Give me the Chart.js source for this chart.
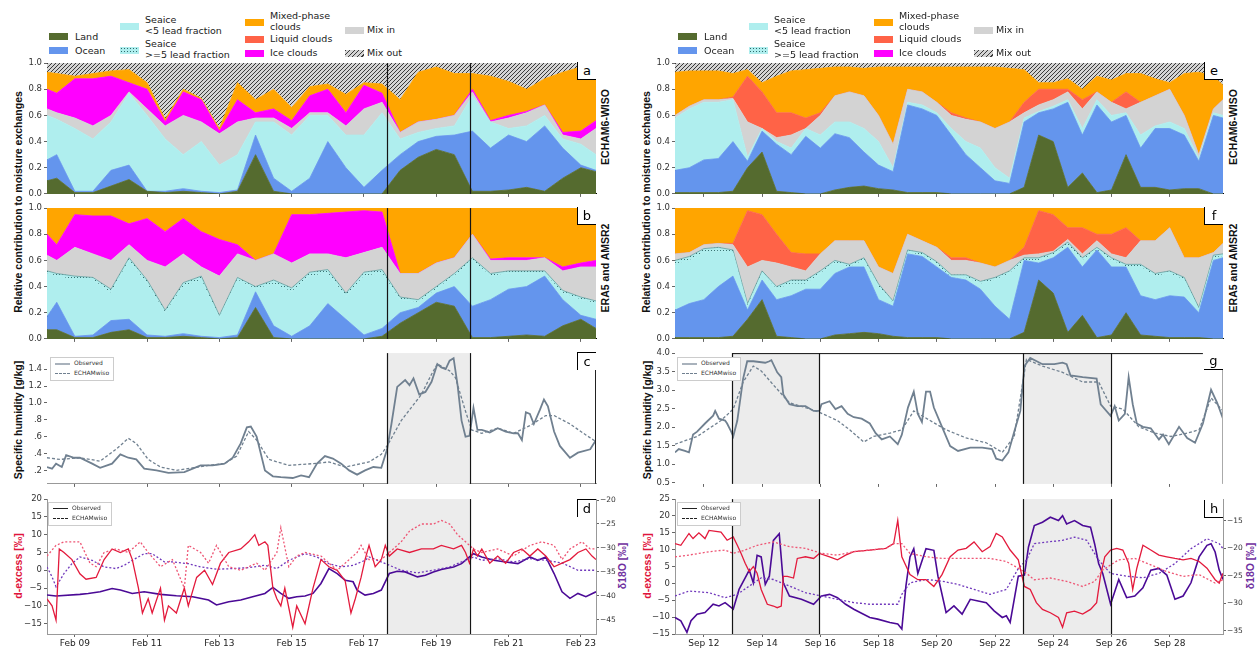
<!DOCTYPE html>
<html>
<head>
<meta charset="utf-8">
<title>Moisture source contributions</title>
<script src="https://cdn.jsdelivr.net/npm/chart.js@4.4.1/dist/chart.umd.min.js"></script>
<style>
  html, body { margin: 0; background: #fff; }
  #stage { position: relative; width: 1258px; height: 648px; overflow: hidden; font-family: "DejaVu Sans", sans-serif; }
  #stage canvas { position: absolute; }
  .leg { position: absolute; top: 0; width: 420px; height: 60px; font-size: 9.5px; color: #222; }
  .leg .p { position: absolute; width: 19px; height: 7px; }
  .leg .t { position: absolute; line-height: 10.5px; white-space: nowrap; }
  .hatch { background: repeating-linear-gradient(135deg, #3a3a3a 0 1px, #d4d4d4 1px 3.2px); }
  .dots { background: radial-gradient(circle, #2f6b6b 0.7px, transparent 0.9px) 0 0 / 3px 3px, #afeeee; }
  .ttl { position: absolute; font-family: "Liberation Sans", Arial, sans-serif; font-weight: bold; font-size: 10.5px;
         white-space: nowrap; transform: translate(-50%, -50%) rotate(-90deg); color: #111; }
  .tag { position: absolute; width: 19px; height: 18px; background: #fff; font-size: 13px; line-height: 17px;
         text-align: center; color: #000; box-sizing: border-box; }
  .lbox { position: absolute; width: 62px; height: 22px; background: #fff; border: 1px solid #ccc; font-size: 6px; color: #333; }
  .lbox i { position: absolute; left: 4px; width: 15px; height: 0; }
  .lbox span { position: absolute; left: 23px; line-height: 8px; white-space: nowrap; }
</style>
</head>
<body>
<div id="stage">
  <div class="leg" id="legL" style="left:0">
    <div class="p" style="left:49px;top:33px;background:#556b2f"></div><div class="t" style="left:75px;top:32px">Land</div>
    <div class="p" style="left:49px;top:47px;background:#6495ed"></div><div class="t" style="left:75px;top:46px">Ocean</div>
    <div class="p" style="left:120px;top:23px;background:#afeeee"></div><div class="t" style="left:145px;top:15px">Seaice<br>&lt;5 lead fraction</div>
    <div class="p dots" style="left:120px;top:47px"></div><div class="t" style="left:145px;top:39px">Seaice<br>&gt;=5 lead fraction</div>
    <div class="p" style="left:245px;top:19px;background:#ffa500"></div><div class="t" style="left:270px;top:11px">Mixed-phase<br>clouds</div>
    <div class="p" style="left:245px;top:36px;background:#ff6347"></div><div class="t" style="left:270px;top:34px">Liquid clouds</div>
    <div class="p" style="left:245px;top:50px;background:#ff00ff"></div><div class="t" style="left:270px;top:48px">Ice clouds</div>
    <div class="p" style="left:345px;top:27px;background:#d3d3d3"></div><div class="t" style="left:367px;top:25px">Mix in</div>
    <div class="p hatch" style="left:345px;top:50px"></div><div class="t" style="left:367px;top:48px">Mix out</div>
  </div>

  <div class="ttl" style="left:18px;top:202px">Relative contribution to moisture exchanges</div>
  <div class="ttl" style="left:646px;top:202px">Relative contribution to moisture exchanges</div>
  <div class="ttl" style="left:18px;top:420px">Specific humidity [g/kg]</div>
  <div class="ttl" style="left:647px;top:420px">Specific humidity [g/kg]</div>
  <div class="ttl" style="left:18px;top:566px;color:#e0143c">d-excess [‰]</div>
  <div class="ttl" style="left:647px;top:566px;color:#e0143c">d-excess [‰]</div>
  <div class="ttl" style="left:622px;top:566px;color:#7030a0">δ18O [‰]</div>
  <div class="ttl" style="left:1250px;top:566px;color:#7030a0">δ18O [‰]</div>
  <div class="ttl" style="left:605px;top:127px">ECHAM6-WISO</div>
  <div class="ttl" style="left:1233px;top:127px">ECHAM6-WISO</div>
  <div class="ttl" style="left:605px;top:268px">ERA5 and AMSR2</div>
  <div class="ttl" style="left:1233px;top:268px">ERA5 and AMSR2</div>
</div>

<script>
// ================= TIME AXES =================
const febRange = [8.23, 23.42];
const sepRange = [11.01, 29.83];
const febTicks = [9, 11, 13, 15, 17, 19, 21, 23];
const sepTicks = [12, 14, 16, 18, 20, 22, 24, 26, 28];
const febEvents = [[17.65, 19.92]];
const sepEvents = [[12.98, 15.97], [22.97, 25.97]];

// ================= VALUE TICKS =================
const fracTicks = [0, 0.2, 0.4, 0.6, 0.8, 1.0];
const qFebTicks = [0.2, 0.4, 0.6, 0.8, 1.0, 1.2, 1.4];
const qSepTicks = [0.5, 1.0, 1.5, 2.0, 2.5, 3.0, 3.5, 4.0];
const dxFebTicks = [-15, -10, -5, 0, 5, 10, 15, 20];
const d18FebTicks = [-45, -40, -35, -30, -25, -20];
const dxSepTicks = [-15, -10, -5, 0, 5, 10, 15, 20, 25];
const d18SepTicks = [-35, -30, -25, -20, -15];

// ================= STACKED SOURCES: FEBRUARY =================
// upper edge of each layer (cumulative fraction), read on a half-day grid
const tFeb = [8.23, 8.5, 9, 9.5, 10, 10.5, 11, 11.5, 12, 12.5, 13, 13.5, 14, 14.5, 15, 15.5,
              16, 16.5, 17, 17.5, 18, 18.5, 19, 19.5, 20, 20.5, 21, 21.5, 22, 22.5, 23, 23.42];

const aLand   = [0.10,0.12,0.01,0.01,0.06,0.11,0.02,0.01,0.02,0.01,0.00,0.02,0.30,0.02,0.00,0.00,0.00,0.00,0.00,0.00,0.18,0.28,0.34,0.30,0.02,0.02,0.03,0.05,0.02,0.12,0.20,0.17];
const aOcean  = [0.26,0.30,0.02,0.02,0.18,0.22,0.02,0.02,0.04,0.02,0.01,0.03,0.45,0.12,0.02,0.12,0.40,0.20,0.05,0.18,0.30,0.40,0.44,0.45,0.48,0.35,0.45,0.40,0.52,0.35,0.22,0.18];
const aSeaice = [0.60,0.57,0.50,0.42,0.55,0.77,0.60,0.42,0.30,0.40,0.22,0.30,0.55,0.55,0.45,0.60,0.60,0.45,0.45,0.62,0.42,0.47,0.50,0.52,0.75,0.55,0.50,0.52,0.60,0.42,0.38,0.30];
const aMixIn  = [0.65,0.62,0.58,0.52,0.60,0.78,0.65,0.52,0.60,0.55,0.46,0.55,0.58,0.58,0.50,0.62,0.62,0.52,0.65,0.70,0.47,0.55,0.57,0.60,0.78,0.55,0.58,0.62,0.68,0.45,0.42,0.50];
const aIce    = [0.80,0.77,0.88,0.88,0.90,0.85,0.80,0.55,0.78,0.72,0.48,0.72,0.62,0.65,0.56,0.75,0.80,0.62,0.83,0.77,0.47,0.55,0.57,0.60,0.80,0.56,0.60,0.63,0.68,0.47,0.48,0.56];
const aMixed  = [0.93,0.92,0.90,0.92,0.94,0.95,0.85,0.57,0.80,0.73,0.50,0.85,0.72,0.80,0.66,0.82,0.84,0.76,0.85,0.84,0.72,0.93,0.97,0.92,0.92,0.90,0.86,0.80,0.88,0.93,0.97,0.88];

const bLand    = [0.07,0.07,0.01,0.01,0.05,0.07,0.01,0.01,0.02,0.01,0.00,0.01,0.24,0.01,0.00,0.00,0.00,0.00,0.00,0.02,0.12,0.20,0.28,0.25,0.01,0.01,0.02,0.03,0.02,0.10,0.15,0.08];
const bOcean   = [0.17,0.28,0.02,0.03,0.14,0.15,0.03,0.02,0.04,0.02,0.01,0.03,0.36,0.10,0.02,0.10,0.27,0.15,0.03,0.08,0.20,0.24,0.35,0.40,0.25,0.30,0.38,0.40,0.48,0.30,0.18,0.15];
const bSeaice  = [0.50,0.48,0.45,0.45,0.35,0.60,0.42,0.20,0.40,0.45,0.16,0.45,0.38,0.42,0.36,0.48,0.50,0.32,0.48,0.50,0.30,0.28,0.38,0.48,0.60,0.48,0.50,0.50,0.50,0.35,0.30,0.27];
const bSeaice5 = [0.52,0.50,0.48,0.47,0.38,0.62,0.45,0.22,0.43,0.48,0.18,0.47,0.40,0.45,0.39,0.51,0.53,0.35,0.51,0.53,0.32,0.30,0.40,0.50,0.62,0.50,0.52,0.52,0.52,0.37,0.32,0.29];
const bMixIn   = [0.64,0.60,0.70,0.65,0.60,0.72,0.60,0.55,0.65,0.55,0.48,0.65,0.60,0.65,0.58,0.65,0.65,0.62,0.66,0.70,0.50,0.50,0.58,0.62,0.80,0.60,0.60,0.60,0.62,0.52,0.55,0.55];
const bIce     = [0.80,0.72,0.95,0.94,0.94,0.88,0.92,0.82,0.92,0.82,0.76,0.72,0.60,0.65,0.95,0.95,0.96,0.97,0.98,0.97,0.50,0.50,0.58,0.62,0.80,0.61,0.62,0.62,0.62,0.55,0.58,0.60];

// ================= STACKED SOURCES: SEPTEMBER =================
const tSep = [11.01, 11.5, 12, 12.5, 13, 13.5, 14, 14.5, 15, 15.5, 16, 16.5, 17, 17.5, 18, 18.5, 19, 19.5, 20, 20.5,
              21, 21.5, 22, 22.5, 23, 23.5, 24, 24.5, 25, 25.5, 26, 26.5, 27, 27.5, 28, 28.5, 29, 29.5, 29.83];

const eLand   = [0.01,0.01,0.01,0.01,0.02,0.20,0.32,0.02,0.01,0.00,0.00,0.03,0.05,0.06,0.04,0.03,0.01,0.01,0.01,0.00,0.00,0.00,0.00,0.00,0.05,0.45,0.40,0.05,0.16,0.01,0.03,0.30,0.05,0.05,0.03,0.04,0.04,0.00,0.00];
const eOcean  = [0.18,0.20,0.26,0.27,0.40,0.25,0.48,0.38,0.30,0.44,0.35,0.46,0.43,0.32,0.22,0.17,0.68,0.65,0.60,0.45,0.30,0.20,0.10,0.08,0.55,0.62,0.65,0.70,0.45,0.68,0.55,0.60,0.35,0.50,0.50,0.45,0.25,0.60,0.58];
const eSeaice = [0.58,0.65,0.70,0.70,0.72,0.28,0.50,0.40,0.35,0.50,0.45,0.55,0.55,0.50,0.40,0.20,0.70,0.68,0.62,0.50,0.40,0.35,0.20,0.12,0.58,0.63,0.67,0.72,0.50,0.72,0.60,0.62,0.45,0.52,0.55,0.50,0.27,0.62,0.60];
const eMixIn  = [0.60,0.67,0.72,0.72,0.73,0.55,0.50,0.43,0.45,0.50,0.60,0.75,0.78,0.75,0.60,0.38,0.80,0.78,0.70,0.60,0.57,0.55,0.50,0.55,0.62,0.68,0.72,0.78,0.65,0.78,0.70,0.65,0.70,0.75,0.80,0.60,0.30,0.65,0.72];
const eLiquid = [0.60,0.67,0.72,0.72,0.74,0.90,0.78,0.62,0.62,0.58,0.62,0.75,0.78,0.75,0.60,0.38,0.80,0.78,0.70,0.62,0.58,0.55,0.50,0.55,0.70,0.80,0.80,0.80,0.72,0.78,0.70,0.78,0.70,0.75,0.80,0.60,0.30,0.65,0.72];
const eMixed  = [0.93,0.94,0.94,0.94,0.92,0.95,0.85,0.90,0.94,0.95,0.96,0.97,0.97,0.96,0.97,0.97,0.97,0.97,0.97,0.97,0.97,0.97,0.97,0.96,0.95,0.85,0.85,0.88,0.80,0.90,0.87,0.92,0.92,0.88,0.85,0.92,0.93,0.90,0.83];

const fLand    = [0.01,0.01,0.01,0.01,0.02,0.15,0.30,0.02,0.01,0.00,0.00,0.03,0.04,0.05,0.04,0.02,0.01,0.01,0.01,0.00,0.00,0.00,0.00,0.00,0.05,0.45,0.35,0.05,0.18,0.01,0.03,0.20,0.03,0.02,0.01,0.01,0.01,0.00,0.00];
const fOcean   = [0.22,0.27,0.30,0.40,0.48,0.22,0.45,0.30,0.33,0.38,0.38,0.50,0.55,0.55,0.30,0.25,0.65,0.63,0.55,0.47,0.45,0.38,0.25,0.15,0.60,0.58,0.62,0.70,0.55,0.68,0.55,0.55,0.33,0.30,0.33,0.32,0.20,0.60,0.62];
const fSeaice  = [0.57,0.60,0.66,0.67,0.66,0.25,0.50,0.38,0.42,0.42,0.50,0.58,0.55,0.60,0.40,0.27,0.66,0.64,0.57,0.47,0.47,0.42,0.45,0.50,0.60,0.60,0.64,0.72,0.60,0.68,0.60,0.55,0.55,0.48,0.50,0.45,0.22,0.62,0.63];
const fSeaice5 = [0.60,0.63,0.69,0.70,0.68,0.27,0.52,0.40,0.45,0.45,0.52,0.60,0.57,0.62,0.42,0.29,0.68,0.66,0.59,0.49,0.49,0.44,0.47,0.52,0.62,0.62,0.66,0.74,0.62,0.70,0.62,0.57,0.57,0.50,0.52,0.47,0.24,0.64,0.65];
const fMixIn   = [0.65,0.66,0.72,0.73,0.72,0.55,0.60,0.58,0.55,0.52,0.65,0.75,0.75,0.75,0.55,0.50,0.80,0.75,0.70,0.60,0.60,0.58,0.55,0.60,0.64,0.65,0.67,0.76,0.65,0.75,0.65,0.62,0.75,0.75,0.85,0.62,0.62,0.66,0.73];
const fLiquid  = [0.65,0.66,0.72,0.73,0.73,0.98,0.95,0.80,0.66,0.65,0.65,0.75,0.75,0.75,0.55,0.50,0.80,0.75,0.70,0.62,0.62,0.58,0.55,0.60,0.70,0.98,0.95,0.85,0.85,0.80,0.80,0.85,0.75,0.75,0.85,0.62,0.62,0.66,0.73];

// ================= SPECIFIC HUMIDITY (g/kg) =================
const cObsT = [8.23,8.37,8.48,8.64,8.76,8.98,9.14,9.48,9.7,10.03,10.26,10.48,10.7,10.92,11.26,11.59,12.03,12.48,12.81,13.14,
               13.37,13.59,13.76,13.87,14.03,14.26,14.48,14.7,15.03,15.26,15.48,15.7,15.92,16.14,16.37,16.59,16.81,17.03,17.26,17.48,
               17.64,17.76,17.92,18.14,18.26,18.37,18.53,18.7,18.87,19.03,19.14,19.26,19.37,19.48,19.59,19.7,19.81,19.92,20.03,20.14,
               20.26,20.48,20.7,20.92,21.14,21.26,21.37,21.48,21.59,21.7,21.87,21.98,22.09,22.26,22.42,22.7,22.92,23.26,23.42];
const cObs  = [0.24,0.22,0.28,0.24,0.38,0.35,0.35,0.28,0.23,0.28,0.39,0.35,0.33,0.22,0.2,0.17,0.18,0.26,0.26,0.28,
               0.35,0.52,0.71,0.72,0.6,0.2,0.13,0.12,0.11,0.14,0.12,0.28,0.37,0.34,0.28,0.2,0.15,0.2,0.24,0.23,
               0.45,0.75,1.19,1.27,1.21,1.29,1.1,1.13,1.25,1.46,1.42,1.4,1.5,1.53,1.21,0.79,0.6,0.61,0.94,0.68,
               0.68,0.65,0.7,0.66,0.64,0.64,0.56,0.89,0.87,0.75,0.92,1.04,0.96,0.66,0.49,0.35,0.41,0.45,0.56];
const cModT = [8.23,8.59,9.14,9.7,10.14,10.48,10.7,11.03,11.37,11.81,12.26,12.7,13.14,13.48,13.81,14.03,14.37,14.92,15.59,16.03,
               16.48,17.14,17.48,17.64,18.03,18.59,18.87,19.03,19.37,19.53,19.81,19.98,20.26,20.7,21.14,21.59,22.03,22.26,22.7,23.14,23.42];
const cMod  = [0.35,0.33,0.35,0.31,0.45,0.58,0.52,0.33,0.24,0.2,0.23,0.26,0.28,0.37,0.66,0.56,0.33,0.26,0.28,0.3,
               0.24,0.3,0.39,0.49,0.79,1.1,1.34,1.46,1.38,1.3,0.9,0.68,0.64,0.7,0.64,0.73,0.85,0.85,0.75,0.62,0.54];

const gObsT = [11.01,11.14,11.35,11.49,11.63,11.77,12.04,12.32,12.39,12.52,12.73,12.8,12.94,13.01,13.15,13.35,13.49,13.7,14.11,14.25,
               14.32,14.52,14.66,14.73,14.94,15.21,15.49,15.77,15.97,16.04,16.32,16.52,16.73,16.94,17.15,17.42,17.7,17.9,18.11,18.39,
               18.66,18.8,19.01,19.21,19.35,19.49,19.63,19.77,19.9,20.18,20.46,20.73,21.15,21.56,21.9,22.04,22.25,22.46,22.66,22.87,
               23.01,23.21,23.63,24.04,24.32,24.46,24.59,25.01,25.49,25.63,25.97,26.11,26.25,26.46,26.59,26.73,26.87,27.08,27.35,27.63,
               27.77,27.97,28.32,28.6,28.87,29.14,29.42,29.63,29.83];
const gObs  = [1.32,1.41,1.36,1.32,1.8,1.88,2.1,2.31,2.44,2.23,2.18,2.1,1.88,1.75,2.18,3.31,3.78,3.78,3.74,3.78,
               3.81,3.48,3.35,2.88,2.62,2.57,2.57,2.44,2.44,2.62,2.7,2.49,2.57,2.36,2.27,2.23,2.1,1.84,1.67,1.75,
               1.54,1.8,2.53,2.96,2.36,2.14,2.96,2.96,2.53,2.01,1.49,1.36,1.45,1.45,1.41,1.15,1.1,1.32,1.88,2.44,
               3.65,3.87,3.7,3.7,3.74,3.7,3.4,3.35,3.31,2.62,2.31,2.57,2.18,2.36,3.35,2.62,2.1,2.01,1.97,1.67,
               1.8,1.54,2.01,1.71,1.58,2.1,3.01,2.66,2.23];
const gModT = [11.01,11.77,12.59,13.01,13.35,13.7,13.97,14.39,14.94,15.49,15.97,16.59,17.01,17.49,17.83,18.39,18.8,19.21,19.77,20.32,
               21.01,21.7,22.25,22.66,23.08,23.63,24.32,25.01,25.56,25.97,26.39,26.94,27.49,28.04,28.6,29.01,29.42,29.83];
const gMod  = [1.54,1.75,2.18,2.49,3.22,3.65,3.52,3.14,2.66,2.53,2.4,2.18,1.93,1.6,1.75,1.84,1.93,2.44,2.18,1.93,
               1.71,1.58,1.32,1.75,3.83,3.65,3.48,3.22,3.22,2.57,2.49,2.01,1.84,1.75,1.84,1.93,2.79,2.44];

// ================= d-EXCESS AND δ18O (‰) : FEBRUARY =================
const dxObsT = [8.23,8.37,8.48,8.57,8.7,8.92,9.14,9.31,9.59,9.81,10.03,10.26,10.48,10.59,10.76,10.87,11.03,11.14,11.37,11.48,
                11.59,11.81,12.03,12.14,12.37,12.59,12.81,13.03,13.26,13.59,13.81,13.98,14.09,14.26,14.34,14.48,14.59,14.7,14.81,15.03,
                15.14,15.37,15.59,15.81,16.03,16.26,16.48,16.64,16.76,16.92,17.03,17.14,17.31,17.48,17.59,17.7,17.92,18.26,18.59,18.92,
                19.14,19.48,19.7,19.81,19.92,20.03,20.14,20.26,20.48,20.7,20.92,21.14,21.37,21.59,21.81,22.03,22.26,22.48,22.7,22.92,
                23.14,23.31,23.42];
const dxObs  = [-8,-10,-14,6,5,3,-1,-2.5,-2,3,6,5,6,3,-5,-12,-8,-12,-5,-14,
                -10,-12,-5,-10,-2,0,-4,2,5,6,8,10,7,8,7,-5,-8,-10,-5,-16,
                -10,-15,-5,3,1,0,-3,-12,-8,-2,3,7,1,3,7,4,6,5,6,6,
                7,6,7,5,2,6,4,6,2,4,2,5,6,4,6,4,1,2,3,5,
                6,4,3];
const dxModT = [8.23,8.48,8.7,9.14,9.42,9.59,9.81,10.14,10.48,10.81,11.03,11.37,11.7,12.03,12.14,12.48,12.7,12.92,13.26,13.59,
                14.03,14.26,14.59,14.7,14.92,15.14,15.37,15.81,16.26,16.59,16.81,16.92,17.14,17.48,17.81,18.03,18.26,18.59,18.92,19.14,
                19.37,19.59,19.81,20.03,20.26,20.7,21.14,21.59,21.92,22.26,22.48,22.7,23.03,23.26,23.42];
const dxMod  = [4,7,8,8,2,1,5,6,5,8,5,1,3,-5,7,5,2,7,1,0,
                2,0,5,12,1,4,5,4,0,3,5,7,3,3,6,8,11,13,13,14,
                13,10,8,6,5,6,4,7,8,7,3,6,8,6,6];
const oObsT = [8.23,8.48,9.14,9.37,9.7,10.03,10.26,10.59,10.92,11.37,11.81,12.26,12.7,12.92,13.26,13.59,13.92,14.26,14.48,14.7,
               14.92,15.14,15.37,15.59,15.81,16.03,16.26,16.48,16.7,16.81,17.03,17.26,17.48,17.7,17.92,18.14,18.48,18.7,18.92,19.14,
               19.48,19.7,19.92,20.03,20.26,20.59,20.92,21.26,21.59,21.81,22.03,22.26,22.48,22.7,22.92,23.14,23.42];
const oObs  = [-39.86,-40.07,-39.72,-39.52,-39.17,-38.48,-38.82,-39.52,-39.17,-39.72,-40.0,-40.2,-40.9,-41.94,-41.25,-40.9,-40.2,-39.52,-38.27,-39.52,
               -40.55,-40.2,-40.07,-39.52,-37.44,-34.33,-35.36,-36.75,-37.09,-38.82,-39.86,-39.52,-38.82,-35.36,-34.88,-35.02,-36.06,-35.71,-35.02,-34.53,
               -33.98,-33.29,-31.9,-31.21,-31.9,-32.6,-32.94,-33.29,-31.9,-32.6,-31.9,-35.36,-39.17,-40.55,-39.52,-40.2,-39.17];
const oModT = [8.23,8.37,8.48,8.7,8.92,9.14,9.48,9.81,10.14,10.37,10.59,10.92,11.14,11.48,11.7,12.14,12.48,12.92,13.37,13.81,
               14.26,14.59,14.92,15.37,15.7,16.03,16.37,16.7,17.03,17.14,17.37,17.7,18.03,18.48,18.92,19.37,19.81,20.03,20.26,20.7,
               21.14,21.59,22.03,22.48,22.92,23.42];
const oMod  = [-33.98,-36.06,-38.13,-35.36,-33.29,-31.9,-32.6,-33.98,-34.33,-33.63,-32.6,-31.21,-31.21,-32.94,-32.94,-33.29,-33.98,-34.46,-34.33,-34.12,
               -33.63,-34.33,-32.6,-31.21,-31.9,-33.29,-33.98,-33.63,-32.6,-31.9,-32.6,-33.63,-34.67,-35.22,-34.67,-33.98,-32.6,-31.9,-32.6,-32.25,
               -32.94,-32.25,-32.6,-33.15,-34.67,-34.67];

// ================= d-EXCESS AND δ18O (‰) : SEPTEMBER =================
const hxObsT = [11.01,11.21,11.49,11.63,11.83,12.04,12.18,12.59,12.8,13.01,13.15,13.28,13.42,13.56,13.7,13.83,13.97,14.18,14.39,14.52,
                14.66,14.73,14.87,15.08,15.21,15.49,15.77,15.97,16.32,16.59,16.87,17.15,17.7,18.25,18.52,18.66,18.8,19.08,19.35,19.63,
                19.9,20.18,20.46,20.73,21.01,21.28,21.56,21.83,22.04,22.25,22.52,22.8,23.01,23.21,23.42,23.63,23.9,24.18,24.32,24.46,
                24.73,25.01,25.28,25.49,25.63,25.77,25.97,26.18,26.39,26.59,26.73,26.87,27.08,27.35,27.63,27.9,28.18,28.46,28.73,29.01,
                29.28,29.56,29.7,29.83];
const hxObs  = [11.8,11.3,14.8,13.3,15.0,13.3,15.7,15.2,12.8,13.8,11.3,8.9,6.0,3.5,5.0,3.0,-1.8,-6.2,-6.7,-7.2,
                -6.7,2.1,2.1,1.6,7.4,7.9,7.4,8.9,7.9,7.0,8.4,9.4,9.9,10.4,11.8,18.7,7.9,2.6,1.1,1.1,
                -0.9,2.6,7.9,9.9,10.4,12.3,9.4,10.9,14.8,13.8,9.9,7.0,-0.9,-1.8,-5.7,-7.7,-8.7,-10.1,-13.0,-8.7,
                -8.2,-9.1,-7.7,-5.7,2.6,7.9,9.9,10.4,9.9,6.0,-1.8,4.5,11.3,9.9,8.4,7.9,7.4,7.0,7.4,6.5,
                4.5,1.1,0.1,3.0];
const hxModT = [11.01,11.49,12.18,12.73,13.01,13.42,13.83,14.39,14.94,15.49,16.04,16.59,17.15,17.7,18.25,18.52,18.8,19.08,19.63,20.18,
                20.73,21.28,21.83,22.39,22.8,23.08,23.35,23.9,24.46,25.01,25.42,25.7,26.25,26.8,27.35,27.9,28.46,29.01,29.56,29.83];
const hxMod  = [7.9,8.4,9.4,9.9,8.9,9.9,11.3,12.3,10.9,10.4,8.9,8.4,9.4,9.9,10.4,11.8,11.8,8.9,7.9,7.4,
                7.4,7.4,7.4,6.5,4.5,3.0,1.1,1.6,0.6,-0.9,0.6,4.0,7.0,7.4,5.5,3.5,2.1,2.6,0.1,1.1];
const hoObsT = [11.01,11.21,11.42,11.56,11.77,12.04,12.32,12.52,12.73,13.01,13.21,13.42,13.56,13.7,13.83,13.97,14.11,14.25,14.39,14.59,
                14.73,14.94,15.35,15.77,16.04,16.32,16.59,16.87,17.15,17.7,17.97,18.39,18.66,18.8,18.94,19.08,19.21,19.35,19.63,19.9,
                20.04,20.32,20.59,20.87,21.15,21.42,21.7,21.97,22.25,22.39,22.52,22.66,22.8,23.01,23.15,23.35,23.63,23.9,24.18,24.32,
                24.46,24.73,25.01,25.28,25.42,25.56,25.7,25.97,26.25,26.52,26.8,27.08,27.35,27.63,27.9,28.18,28.46,28.73,29.01,29.28,
                29.42,29.56,29.7,29.83];
const hoObs  = [-32.6,-33.2,-35.3,-33.2,-32.0,-31.7,-30.2,-30.5,-29.9,-31.1,-27.5,-25.4,-24.0,-26.3,-21.3,-21.6,-26.6,-25.1,-18.6,-17.4,
                -26.3,-28.7,-29.3,-30.2,-28.7,-28.4,-29.0,-30.2,-31.1,-32.6,-32.9,-33.5,-33.8,-34.7,-26.9,-21.6,-20.1,-24.6,-20.1,-20.4,
                -25.1,-31.7,-30.5,-32.0,-29.3,-29.6,-29.9,-31.4,-32.6,-32.3,-33.5,-29.3,-25.1,-24.9,-19.8,-15.9,-15.3,-14.4,-15.0,-14.1,
                -15.6,-15.0,-15.9,-16.2,-19.2,-22.8,-24.6,-30.2,-25.7,-29.0,-28.7,-27.2,-24.0,-23.7,-24.9,-29.3,-28.7,-26.3,-21.6,-19.5,
                -19.2,-20.7,-24.0,-25.7];
const hoModT = [11.01,11.49,12.18,12.73,13.15,13.56,13.97,14.39,14.94,15.49,16.04,16.59,17.15,17.7,18.25,18.66,18.8,19.08,19.63,20.18,
                20.73,21.28,21.83,22.39,22.8,23.08,23.35,23.77,24.32,24.73,25.15,25.56,25.97,26.52,27.08,27.63,28.18,28.73,29.28,29.7,29.83];
const hoMod  = [-28.7,-27.8,-28.1,-29.0,-28.4,-26.9,-25.4,-25.7,-26.9,-28.1,-28.7,-29.3,-29.9,-30.2,-30.2,-30.2,-28.4,-26.3,-25.7,-26.0,
                -26.6,-27.5,-28.4,-27.5,-23.7,-22.2,-19.2,-18.9,-18.6,-18.0,-18.6,-22.2,-24.6,-25.1,-25.4,-24.6,-22.8,-20.1,-18.3,-19.2,-20.1];

// ================= COLOURS =================
const C = {
  land: '#556b2f', ocean: '#6495ed', seaice: '#afeeee', mixin: '#d3d3d3',
  ice: '#ff00ff', liquid: '#ff6347', mixed: '#ffa500',
  q: '#708090', dxObs: '#e31a3c', dxMod: '#ee5574', oObs: '#4b0a96', oMod: '#7038bc'
};

Chart.defaults.font.family = '"DejaVu Sans", sans-serif';

// hatch for "Mix out", dots for "Seaice >=5"
function tile(size, draw) {
  const c = document.createElement('canvas');
  c.width = size; c.height = size;
  draw(c.getContext('2d'), size);
  return c.getContext('2d').createPattern(c, 'repeat');
}
const hatch = tile(4, (g, s) => {
  g.fillStyle = '#d4d4d4'; g.fillRect(0, 0, s, s);
  g.strokeStyle = '#3a3a3a'; g.lineWidth = 1;
  g.beginPath();
  g.moveTo(-1, s + 1); g.lineTo(s + 1, -1);
  g.moveTo(-1, 1); g.lineTo(1, -1);
  g.moveTo(s - 1, s + 1); g.lineTo(s + 1, s - 1);
  g.stroke();
});
const dots = tile(3, (g, s) => {
  g.fillStyle = C.seaice; g.fillRect(0, 0, s, s);
  g.fillStyle = '#3a7272'; g.fillRect(1, 1, 1, 1);
});

const xy = (T, V) => V.map((v, i) => ({ x: T[i], y: v }));

// ================= AXES =================
const mkTicks = vals => s => { s.ticks = vals.map(v => ({ value: v })); };
const minus = v => String(v).replace('-', '\u2212');

function timeAxis(range, ticks, month, labels, border) {
  return {
    type: 'linear', min: range[0], max: range[1],
    afterBuildTicks: mkTicks(ticks),
    ticks: { display: labels, autoSkip: false, maxRotation: 0, padding: 1, color: '#222', font: { size: 9 },
             callback: v => month + ' ' + String(v).padStart(2, '0') },
    grid: { display: true, drawOnChartArea: false, tickLength: 3, color: '#666' },
    border: { display: !!border, color: border || '#000', width: 1 }
  };
}
function valAxis(pos, min, max, ticks, fmt, border, size) {
  return {
    type: 'linear', position: pos, min, max,
    afterBuildTicks: mkTicks(ticks),
    ticks: { autoSkip: false, padding: pos === 'right' ? 1 : 2, color: '#333', font: { size: size || 8.5 }, callback: fmt },
    grid: { display: true, drawOnChartArea: false, tickLength: 3, color: '#666' },
    border: { display: !!border, color: border || '#000', width: 1 }
  };
}

// shading, event lines and partial frame lines
function marks(o) {
  return {
    id: 'marks',
    beforeDatasetsDraw(chart) {
      const { ctx, chartArea: a, scales: { x } } = chart;
      ctx.save();
      ctx.fillStyle = '#ececec';
      (o.shade || []).forEach(([t0, t1]) => {
        const p0 = x.getPixelForValue(t0), p1 = x.getPixelForValue(t1);
        ctx.fillRect(p0, a.top, p1 - p0, a.bottom - a.top);
      });
      ctx.restore();
    },
    afterDatasetsDraw(chart) {
      const { ctx, chartArea: a, scales: { x } } = chart;
      ctx.save();
      ctx.strokeStyle = '#151515'; ctx.lineWidth = 1.2;
      (o.lines || []).forEach(t => {
        const p = Math.round(x.getPixelForValue(t)) + 0.5;
        ctx.beginPath(); ctx.moveTo(p, a.top); ctx.lineTo(p, a.bottom); ctx.stroke();
      });
      if (o.right) {
        ctx.strokeStyle = o.right; ctx.lineWidth = 1;
        ctx.beginPath(); ctx.moveTo(a.right - 0.5, a.top); ctx.lineTo(a.right - 0.5, a.bottom); ctx.stroke();
      }
      if (o.top) {
        ctx.strokeStyle = '#111'; ctx.lineWidth = 1;
        ctx.beginPath();
        ctx.moveTo(x.getPixelForValue(o.top[0]), a.top + 0.5);
        ctx.lineTo(x.getPixelForValue(o.top[1]), a.top + 0.5);
        ctx.stroke();
      }
      ctx.restore();
    }
  };
}

const stage = document.getElementById('stage');
function panel(box, pad, datasets, scales, opts) {
  const [x0, y0, x1, y1] = box, [pl, pt, pr, pb] = pad;
  const cv = document.createElement('canvas');
  cv.width = x1 - x0 + pl + pr; cv.height = y1 - y0 + pt + pb;
  cv.style.left = (x0 - pl) + 'px'; cv.style.top = (y0 - pt) + 'px';
  stage.appendChild(cv);
  scales.y.afterFit = s => { s.width = pl; };
  scales.x.afterFit = s => { s.height = pb; };
  if (scales.y2) scales.y2.afterFit = s => { s.width = pr; };
  return new Chart(cv, {
    type: 'line',
    data: { datasets },
    options: {
      responsive: false, animation: false, events: [],
      layout: { padding: { top: pt, right: scales.y2 ? 0 : pr, left: 0, bottom: 0 } },
      scales,
      elements: { point: { radius: 0 }, line: { tension: 0 } },
      plugins: { legend: { display: false }, tooltip: { enabled: false } }
    },
    plugins: [marks(opts || {})]
  });
}

// one filled band per layer, each filling down to the previous edge
function layer(T, V, color, line, fill) {
  return { data: xy(T, V), backgroundColor: color, borderColor: line, borderWidth: line ? 0.8 : 0,
           fill: fill, pointRadius: 0 };
}

const LX = [47, 596], RX = [675, 1223];
const ROW = { a: [62, 197], b: [207, 342], c: [352, 487], d: [498, 634] };
const fmt1 = v => v.toFixed(1);

// ---------- a: ECHAM6-wiso, February ----------
panel([LX[0], ROW.a[0], LX[1], ROW.a[1]], [40, 6, 4, 4], [
  layer(tFeb, aLand, C.land, C.land, 'origin'),
  layer(tFeb, aOcean, C.ocean, C.ocean, '-1'),
  layer(tFeb, aSeaice, C.seaice, C.seaice, '-1'),
  layer(tFeb, aMixIn, C.mixin, C.mixin, '-1'),
  layer(tFeb, aIce, C.ice, C.ice, '-1'),
  layer(tFeb, aMixed, C.mixed, C.mixed, '-1'),
  layer(tFeb, aMixed, hatch, null, 'end')
], { x: timeAxis(febRange, febTicks, 'Feb', false, '#000'), y: valAxis('left', 0, 1, fracTicks, fmt1, '#000') },
{ lines: febEvents[0] });

// ---------- b: ERA5 and AMSR2, February ----------
panel([LX[0], ROW.b[0], LX[1], ROW.b[1]], [40, 6, 4, 4], [
  layer(tFeb, bLand, C.land, C.land, 'origin'),
  layer(tFeb, bOcean, C.ocean, C.ocean, '-1'),
  layer(tFeb, bSeaice, C.seaice, C.seaice, '-1'),
  layer(tFeb, bSeaice5, dots, '#5f9a9a', '-1'),
  layer(tFeb, bMixIn, C.mixin, C.mixin, '-1'),
  layer(tFeb, bIce, C.ice, C.ice, '-1'),
  layer(tFeb, bIce, C.mixed, null, 'end')
], { x: timeAxis(febRange, febTicks, 'Feb', false, '#000'), y: valAxis('left', 0, 1, fracTicks, fmt1, '#000') },
{ lines: febEvents[0] });

// ---------- c: specific humidity, February ----------
panel([LX[0], ROW.c[0], LX[1], ROW.c[1]], [40, 6, 4, 4], [
  { data: xy(cObsT, cObs), borderColor: C.q, borderWidth: 1.8, pointRadius: 0, fill: false },
  { data: xy(cModT, cMod), borderColor: C.q, borderWidth: 1.3, borderDash: [3, 2], pointRadius: 0, fill: false }
], { x: timeAxis(febRange, febTicks, 'Feb', false, '#999'),
     y: valAxis('left', 0.04, 1.59, qFebTicks, v => (v < 1 ? v.toFixed(1).slice(1) : v.toFixed(1)), null) },
{ shade: febEvents, lines: febEvents[0], right: '#222' });

// ---------- d: d-excess and δ18O, February ----------
panel([LX[0], ROW.d[0], LX[1], ROW.d[1]], [40, 6, 26, 14], [
  { data: xy(dxModT, dxMod), borderColor: C.dxMod, borderWidth: 1.3, borderDash: [2, 2], pointRadius: 0, fill: false, yAxisID: 'y' },
  { data: xy(dxObsT, dxObs), borderColor: C.dxObs, borderWidth: 1.3, pointRadius: 0, fill: false, yAxisID: 'y' },
  { data: xy(oModT, oMod), borderColor: C.oMod, borderWidth: 1.3, borderDash: [2, 2], pointRadius: 0, fill: false, yAxisID: 'y2' },
  { data: xy(oObsT, oObs), borderColor: C.oObs, borderWidth: 1.6, pointRadius: 0, fill: false, yAxisID: 'y2' }
], { x: timeAxis(febRange, febTicks, 'Feb', true, '#999'),
     y: valAxis('left', -17.9, 20, dxFebTicks, minus, '#999'),
     y2: valAxis('right', -48, -19.8, d18FebTicks, minus, '#999', 7.5) },
{ shade: febEvents, lines: febEvents[0] });

// ---------- e: ECHAM6-wiso, September ----------
panel([RX[0], ROW.a[0], RX[1], ROW.a[1]], [40, 6, 4, 4], [
  layer(tSep, eLand, C.land, C.land, 'origin'),
  layer(tSep, eOcean, C.ocean, C.ocean, '-1'),
  layer(tSep, eSeaice, C.seaice, C.seaice, '-1'),
  layer(tSep, eMixIn, C.mixin, C.mixin, '-1'),
  layer(tSep, eLiquid, C.liquid, C.liquid, '-1'),
  layer(tSep, eMixed, C.mixed, C.mixed, '-1'),
  layer(tSep, eMixed, hatch, null, 'end')
], { x: timeAxis(sepRange, sepTicks, 'Sep', false, '#000'), y: valAxis('left', 0, 1, fracTicks, fmt1, '#000') });

// ---------- f: ERA5 and AMSR2, September ----------
panel([RX[0], ROW.b[0], RX[1], ROW.b[1]], [40, 6, 4, 4], [
  layer(tSep, fLand, C.land, C.land, 'origin'),
  layer(tSep, fOcean, C.ocean, C.ocean, '-1'),
  layer(tSep, fSeaice, C.seaice, C.seaice, '-1'),
  layer(tSep, fSeaice5, dots, '#5f9a9a', '-1'),
  layer(tSep, fMixIn, C.mixin, C.mixin, '-1'),
  layer(tSep, fLiquid, C.liquid, C.liquid, '-1'),
  layer(tSep, fLiquid, C.mixed, null, 'end')
], { x: timeAxis(sepRange, sepTicks, 'Sep', false, '#000'), y: valAxis('left', 0, 1, fracTicks, fmt1, '#000') });

// ---------- g: specific humidity, September ----------
panel([RX[0], ROW.c[0], RX[1], ROW.c[1]], [40, 6, 4, 4], [
  { data: xy(gObsT, gObs), borderColor: C.q, borderWidth: 1.8, pointRadius: 0, fill: false },
  { data: xy(gModT, gMod), borderColor: C.q, borderWidth: 1.3, borderDash: [3, 2], pointRadius: 0, fill: false }
], { x: timeAxis(sepRange, sepTicks, 'Sep', false, null),
     y: valAxis('left', 0.47, 4.0, qSepTicks, fmt1, null) },
{ shade: sepEvents, lines: sepEvents.flat(), right: '#aaa', top: [12.98, 29.14] });

// ---------- h: d-excess and δ18O, September ----------
panel([RX[0], ROW.d[0], RX[1], ROW.d[1]], [40, 6, 26, 14], [
  { data: xy(hxModT, hxMod), borderColor: C.dxMod, borderWidth: 1.3, borderDash: [2, 2], pointRadius: 0, fill: false, yAxisID: 'y' },
  { data: xy(hxObsT, hxObs), borderColor: C.dxObs, borderWidth: 1.3, pointRadius: 0, fill: false, yAxisID: 'y' },
  { data: xy(hoModT, hoMod), borderColor: C.oMod, borderWidth: 1.3, borderDash: [2, 2], pointRadius: 0, fill: false, yAxisID: 'y2' },
  { data: xy(hoObsT, hoObs), borderColor: C.oObs, borderWidth: 1.6, pointRadius: 0, fill: false, yAxisID: 'y2' }
], { x: timeAxis(sepRange, sepTicks, 'Sep', true, '#999'),
     y: valAxis('left', -15, 25, dxSepTicks, minus, '#999'),
     y2: valAxis('right', -35.6, -11.1, d18SepTicks, minus, '#999', 7.5) },
{ shade: sepEvents, lines: sepEvents.flat() });

// ================= OVERLAYS: second legend, panel tags, line legends =================
const legR = document.getElementById('legL').cloneNode(true);
legR.id = 'legR'; legR.style.left = '629px';
stage.appendChild(legR);

function tag(txt, x, y, borders) {
  const d = document.createElement('div');
  d.className = 'tag'; d.textContent = txt;
  d.style.left = x + 'px'; d.style.top = y + 'px';
  borders.split(' ').forEach(b => { d.style['border' + b] = '1px solid #000'; });
  stage.appendChild(d);
}
tag('a', 577, 62, 'Left Bottom');
tag('b', 577, 207, 'Left Bottom');
tag('c', 577, 352, 'Left Top');
tag('d', 577, 499, 'Left Top');
tag('e', 1204, 62, 'Left Bottom');
tag('f', 1204, 207, 'Left Bottom');
tag('g', 1204, 352, 'Bottom');
tag('h', 1204, 500, 'Left Bottom');

function lineLegend(x, y, solid, dashed, labels) {
  const d = document.createElement('div');
  d.className = 'lbox';
  d.style.left = x + 'px'; d.style.top = y + 'px';
  d.innerHTML =
    `<i style="top:5px;border-top:${solid}"></i><span style="top:1px">${labels[0]}</span>` +
    `<i style="top:15px;border-top:${dashed}"></i><span style="top:11px">${labels[1]}</span>`;
  stage.appendChild(d);
}
const lineNames = ['Observed', 'ECHAMwiso'];
lineLegend(50, 357, '2px solid #a9b2bc', '1px dashed #708090', lineNames);
lineLegend(48, 502, '1px solid #222', '1px dashed #222', lineNames);
lineLegend(677, 357, '2px solid #a9b2bc', '1px dashed #708090', lineNames);
lineLegend(677, 502, '1px solid #222', '1px dashed #222', lineNames);
</script>
</body>
</html>
